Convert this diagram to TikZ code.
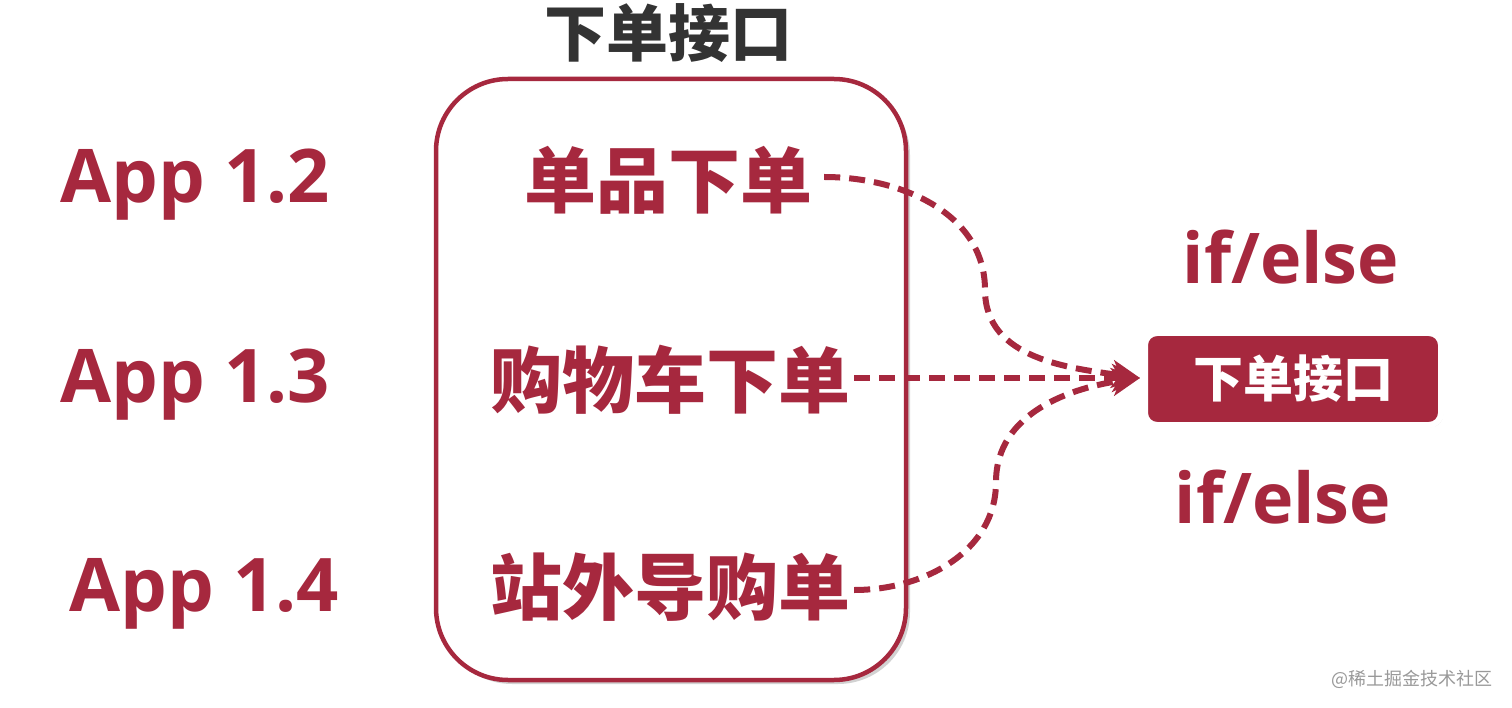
\documentclass[tikz,border=0pt]{standalone}
\usepackage{fontspec}
\setmainfont{Open Sans}
\newfontfamily\cjk{Noto Sans CJK SC}
\usetikzlibrary{arrows.meta,shadows}
\definecolor{crim}{RGB}{166,40,62}
\definecolor{darktxt}{RGB}{51,51,51}
\tikzset{
  apptxt/.style={font=\fontsize{74}{80}\selectfont\bfseries, text=crim, inner sep=0pt},
  itemtxt/.style={font=\cjk\bfseries\fontsize{72}{76}\selectfont, text=crim, inner sep=0pt},
  iftxt/.style={font=\fontsize{70}{76}\selectfont\bfseries, text=crim, inner sep=0pt},
  conn/.style={draw=crim, line width=6pt, dash pattern=on 16pt off 9pt, -{Stealth[length=28pt,width=28pt,inset=8pt]}},
}
\begin{document}
\begin{tikzpicture}[x=1pt,y=-1pt]
\useasboundingbox (0,0) rectangle (1512,708);
\fill[white] (0,0) rectangle (1512,708);
% title
\node[font=\cjk\bfseries\fontsize{62}{66}\selectfont, text=darktxt, inner sep=0pt] (title) at (668,33) {下单接口};
% big rounded box
\draw[crim, line width=4.5pt, rounded corners=72pt, fill=white, drop shadow={opacity=0.35, shadow xshift=4pt, shadow yshift=-4pt}] (436,79) rectangle (906,680);
\node (box) at (671,380) {};
% left labels
\node[apptxt] (a2) at (195,185) {App 1.2};
\node[apptxt] (a3) at (195,385) {App 1.3};
\node[apptxt] (a4) at (204,594) {App 1.4};
% items
\node[itemtxt] (i1) at (668,180) {单品下单};
\node[itemtxt] (i2) at (670,380) {购物车下单};
\node[itemtxt] (i3) at (670,587) {站外导购单};
% if/else
\node[iftxt] (if1) at (1291,257) {if/else};
\node[iftxt] (if2) at (1283,497) {if/else};
% target box
\node[draw=white, line width=6pt, fill=crim, rounded corners=12pt, minimum width=296pt, minimum height=92pt, inner sep=0pt,
      drop shadow={opacity=0.5, shadow xshift=2pt, shadow yshift=-2pt},
      font=\cjk\bfseries\fontsize{50}{54}\selectfont, text=white] (tgt) at (1293,379) {下单接口};
\coordinate (tip) at (1140,378);
\coordinate (m1) at (985,290);
\coordinate (m3) at (996,482);
% connectors
\draw[conn] (i1.east) ++(12,-3) to[out=0,in=90] (m1) to[out=-90,in=172] (tip);
\draw[conn] (i2.east) ++(4,-2) -- (tip);
\draw[conn] (i3.east) ++(4,3) to[out=0,in=-90] (m3) to[out=90,in=188] (tip);
% watermark
\node[font=\cjk\fontsize{18}{20}\selectfont, text=black!40, inner sep=0pt] (wm) at (1412,679) {@稀土掘金技术社区};
\end{tikzpicture}
\end{document}
